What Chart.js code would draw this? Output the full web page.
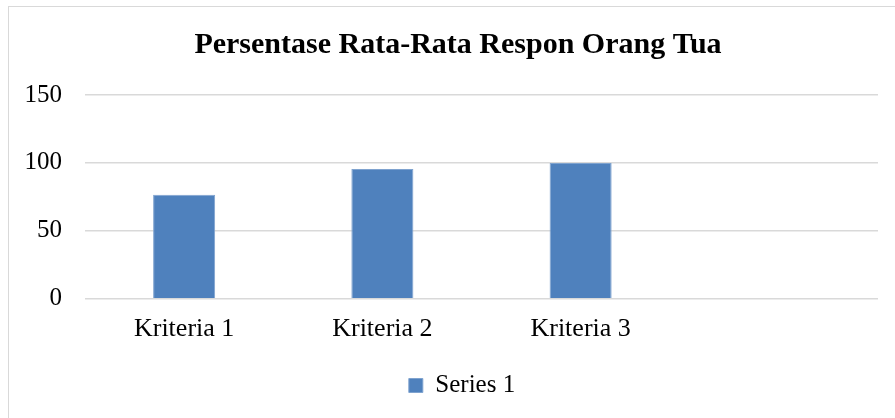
<!DOCTYPE html>
<html>
<head>
<meta charset="utf-8">
<script src="https://cdn.jsdelivr.net/npm/chart.js@4/dist/chart.umd.min.js"></script>
<style>
  html, body { margin: 0; padding: 0; background: #fff; }
  #wrap { position: relative; width: 895px; height: 418px; overflow: hidden; }
  #frame { position: absolute; left: 8px; top: 6px; width: 900px; height: 420px; border-left: 1px solid #d9d9d9; border-top: 1px solid #d9d9d9; }
  canvas { position: absolute; left: 0; top: 0; }
</style>
</head>
<body>
<div id="wrap">
  <div id="frame"></div>
  <canvas id="chart" width="895" height="418"></canvas>
</div>
<script>
// --- DATA ---
const chartTitle = 'Persentase Rata-Rata Respon Orang Tua';
const categories = ['Kriteria 1', 'Kriteria 2', 'Kriteria 3', ''];
const series1 = [76.5, 95.6, 100, null];
const yTicks = [0, 50, 100, 150];

const serif = "'Liberation Serif', 'Times New Roman', serif";

// small nudge so title and legend sit where the original has them
const nudge = {
    id: 'nudge',
    afterLayout(chart) {
        chart.titleBlock.left += 6; chart.titleBlock.right += 6;
        chart.legend.left += 10; chart.legend.right += 10;
    }
};

new Chart(document.getElementById('chart'), {
    type: 'bar',
    data: {
        labels: categories,
        datasets: [{
            label: 'Series 1',
            data: series1,
            backgroundColor: '#4f81bd',
            borderColor: '#7fa3cf',
            borderWidth: 1,
            barPercentage: 0.313,
            categoryPercentage: 1
        }]
    },
    options: {
        responsive: false,
        animation: false,
        layout: { padding: { left: 26, right: 17, top: 27, bottom: 10 } },
        plugins: {
            title: {
                display: true,
                text: chartTitle,
                color: '#000',
                font: { family: serif, size: 30, weight: 'bold' },
                padding: { top: 0, bottom: 32 }
            },
            legend: {
                position: 'bottom',
                labels: {
                    color: '#000',
                    font: { family: serif, size: 25 },
                    boxWidth: 14,
                    boxHeight: 14,
                    padding: 13
                }
            },
            tooltip: { enabled: false }
        },
        scales: {
            x: {
                grid: { display: false, drawTicks: false },
                border: { display: false },
                ticks: { color: '#000', font: { family: serif, size: 26 }, padding: 15, maxRotation: 0 }
            },
            y: {
                min: 0,
                max: 150,
                afterBuildTicks: s => { s.ticks = yTicks.map(v => ({ value: v })); },
                afterFit: s => { s.width = 59; },
                grid: { color: '#d9d9d9', lineWidth: 1.5, drawTicks: false },
                border: { display: false },
                ticks: { color: '#000', font: { family: serif, size: 25 }, padding: 23 }
            }
        }
    },
    plugins: [nudge]
});
</script>
</body>
</html>
